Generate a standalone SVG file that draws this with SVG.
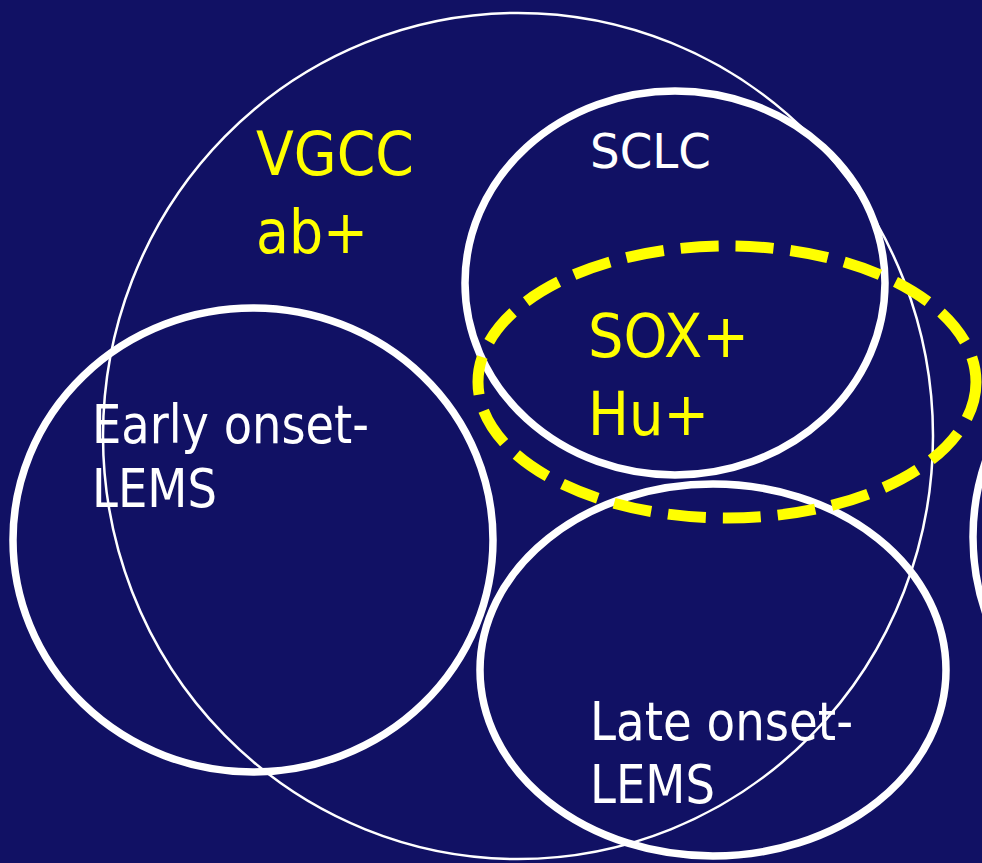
<svg xmlns="http://www.w3.org/2000/svg" width="982" height="863" viewBox="0 0 982 863">
<style>
.set{fill:none;stroke:#ffffff;stroke-width:7.5}
.thin{fill:none;stroke:#ffffff;stroke-width:2.5}
.dash{fill:none;stroke:#ffff00;stroke-width:11;stroke-dasharray:38 17}
.t{font-family:"DejaVu Sans","Verdana",sans-serif;}
.w{fill:#ffffff}
.y{fill:#ffff00}
</style>
<rect x="0" y="0" width="982" height="863" fill="#111164"/>
<g id="vgcc">
<ellipse class="thin" cx="518" cy="436" rx="415" ry="423"/>
<text class="t y" x="256" y="175" font-size="61" textLength="158" lengthAdjust="spacingAndGlyphs">VGCC</text>
<text class="t y" x="256" y="253" font-size="61" textLength="112" lengthAdjust="spacingAndGlyphs">ab+</text>
</g>
<g id="early">
<ellipse class="set" cx="253" cy="540" rx="240" ry="232"/>
<text class="t w" x="92" y="443" font-size="54" textLength="277" lengthAdjust="spacingAndGlyphs">Early onset-</text>
<text class="t w" x="92" y="507" font-size="54" textLength="125" lengthAdjust="spacingAndGlyphs">LEMS</text>
</g>
<g id="sclc">
<ellipse class="set" cx="675" cy="283" rx="210" ry="192"/>
<text class="t w" x="590" y="168" font-size="48" textLength="121" lengthAdjust="spacingAndGlyphs">SCLC</text>
</g>
<g id="late">
<ellipse class="set" cx="713" cy="670" rx="233" ry="186"/>
<text class="t w" x="590" y="740" font-size="54" textLength="263" lengthAdjust="spacingAndGlyphs">Late onset-</text>
<text class="t w" x="590" y="803" font-size="54" textLength="125" lengthAdjust="spacingAndGlyphs">LEMS</text>
</g>
<g id="right">
<circle class="set" cx="1208" cy="537" r="235"/>
</g>
<g id="sox">
<ellipse class="dash" cx="727" cy="382" rx="249" ry="136"/>
<text class="t y" x="588" y="357" font-size="61" textLength="161" lengthAdjust="spacingAndGlyphs">SOX+</text>
<text class="t y" x="588" y="435" font-size="61" textLength="121" lengthAdjust="spacingAndGlyphs">Hu+</text>
</g>
<g id="connectors"></g>
</svg>
